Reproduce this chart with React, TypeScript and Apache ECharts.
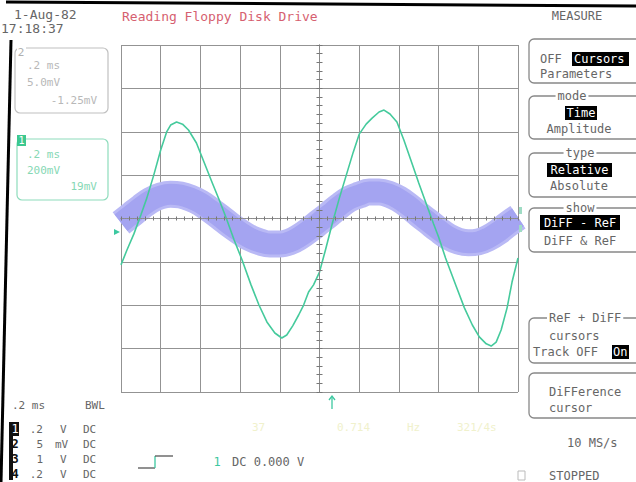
import React, { useEffect, useRef } from "react";
import * as echarts from "echarts";

// Channel 1 (green) : time in ms, amplitude in mV (200 mV/div)
const ch1Time = [
  -1.0, -0.97, -0.935, -0.9, -0.87, -0.835, -0.8, -0.77, -0.75, -0.72, -0.69, -0.66, -0.62, -0.58, -0.54,
  -0.505, -0.47, -0.43, -0.39, -0.345, -0.305, -0.265, -0.225, -0.19, -0.165, -0.135, -0.105, -0.08, -0.055,
  -0.03, 0.0, 0.03, 0.065, 0.1, 0.135, 0.17, 0.2, 0.235, 0.265, 0.3, 0.325, 0.355, 0.39, 0.425, 0.46, 0.5,
  0.54, 0.575, 0.6, 0.635, 0.69, 0.73, 0.77, 0.805, 0.84, 0.865, 0.89, 0.915, 0.945, 0.97, 1.0,
];
const ch1Mv = [
  -214, -145, -71, 16, 94, 200, 316, 399, 431, 445, 435, 408, 348, 256, 164,
  85, 2, -99, -191, -306, -399, -477, -528, -551, -537, -495, -445, -399, -339,
  -306, -247, -145, -21, 94, 200, 306, 389, 435, 463, 491, 500, 482, 445, 362, 270, 164,
  62, -25, -85, -182, -316, -412, -491, -546, -578, -588, -570, -514, -412, -293, -182,
];

// Channel 2 (purple) : time in ms, amplitude in mV (5 mV/div)
const ch2Time = [
  -1.0, -0.95, -0.9, -0.85, -0.8, -0.75, -0.7, -0.65, -0.6, -0.55, -0.5, -0.45, -0.4, -0.35, -0.3, -0.25,
  -0.2, -0.15, -0.1, -0.05, 0.0, 0.05, 0.1, 0.15, 0.2, 0.25, 0.3, 0.35, 0.4, 0.45, 0.5, 0.55, 0.6, 0.65,
  0.7, 0.75, 0.8, 0.85, 0.9, 0.95, 1.0,
];
const ch2Mv = [
  -0.5, 0.4, 1.3, 2.1, 2.6, 2.8, 2.7, 2.35, 1.8, 1.0, 0.15, -0.75, -1.55, -2.25, -2.7, -2.95,
  -2.95, -2.7, -2.1, -1.3, -0.4, 0.5, 1.45, 2.25, 2.7, 3.05, 3.05, 2.8, 2.25, 1.45, 0.5, -0.4, -1.3, -2.1,
  -2.6, -2.8, -2.7, -2.25, -1.55, -0.65, 0.15,
];

// Axis settings
const timeMin = -1;
const timeMax = 1;
const timeStep = 0.2;
const ch1Min = -800;
const ch1Max = 800;
const ch1Step = 200;
const ch2Min = -20;
const ch2Max = 20;

// Texts
const dateText = "1-Aug-82";
const timeText = "17:18:37";
const titleText = "Reading Floppy Disk Drive";
const chanRows = [
  { n: "1", a: ".2", u: "V", c: "DC" },
  { n: "2", a: "5", u: "mV", c: "DC" },
  { n: "3", a: "1", u: "V", c: "DC" },
  { n: "4", a: ".2", u: "V", c: "DC" },
];

const MONO = '"DejaVu Sans Mono", "Liberation Mono", monospace';
const TXT = "#666";

function txt(text: string, x: number, y: number, size = 12, fill = TXT, align = "left", extra: any = {}) {
  return {
    type: "text",
    x,
    y,
    z: 30,
    style: {
      text,
      fill,
      font: `${size}px ${MONO}`,
      textAlign: align,
      align,
      textVerticalAlign: "middle",
      verticalAlign: "middle",
      ...extra,
    },
  };
}
function box(x: number, y: number, w: number, h: number, stroke: string, r = 5, lw = 1.3) {
  return {
    type: "rect",
    z: 25,
    shape: { x, y, width: w, height: h, r },
    style: { fill: "none", stroke, lineWidth: lw },
  };
}
function blk(x: number, y: number, w: number, h: number, fill = "#000") {
  return { type: "rect", z: 26, shape: { x, y, width: w, height: h }, style: { fill } };
}
function lbl(text: string, x: number, y: number, align = "center") {
  return txt(text, x, y, 12, TXT, align, { backgroundColor: "#fff", padding: [0, 2] });
}

export default function App() {
  const ref = useRef<HTMLDivElement>(null);
  useEffect(() => {
    if (!ref.current) return;
    const chart = echarts.init(ref.current, undefined, { renderer: "svg" });
    const ch1 = ch1Time.map((t, i) => [t, ch1Mv[i]]);
    const ch2 = ch2Time.map((t, i) => [t, ch2Mv[i]]);

    const tickAxis = (pos: string) => ({
      type: "value",
      min: timeMin,
      max: timeMax,
      interval: timeStep,
      position: pos,
      z: 6,
      axisLabel: { show: false },
      splitLine: { show: false },
      axisLine: { show: true, onZero: true, onZeroAxisIndex: 0, lineStyle: { color: "#8a8a8a", width: 1, type: "dotted" } },
      axisTick: { show: true, length: 2, inside: false, lineStyle: { color: "#777" } },
      minorTick: { show: true, splitNumber: 5, length: 2, lineStyle: { color: "#777" } },
    });
    const yTickAxis = (pos: string) => ({
      type: "value",
      min: ch1Min,
      max: ch1Max,
      interval: ch1Step,
      position: pos,
      z: 6,
      axisLabel: { show: false },
      splitLine: { show: false },
      axisLine: { show: true, onZero: true, onZeroAxisIndex: 0, lineStyle: { color: "#8a8a8a", width: 1 } },
      axisTick: { show: true, length: 3, inside: false, lineStyle: { color: "#777" } },
      minorTick: { show: true, splitNumber: 5, length: 3, lineStyle: { color: "#777" } },
    });

    const graphics: any[] = [
      // bezel edges
      { type: "line", z: 40, shape: { x1: 6, y1: 2, x2: 636, y2: 6 }, style: { stroke: "#000", lineWidth: 3 } },
      { type: "line", z: 40, shape: { x1: 11, y1: 40, x2: 1, y2: 482 }, style: { stroke: "#000", lineWidth: 3 } },
      txt(dateText, 14, 14, 13, TXT),
      txt(timeText, 1, 28, 13, TXT),
      txt(titleText, 122, 16, 13, "#d65f70"),
      txt("MEASURE", 577, 16, 12, TXT, "center"),

      // channel 2 box
      box(15, 48, 93, 65, "#c0c0c0", 5, 1.2),
      blk(17, 46, 9, 10, "#fff"),
      txt("2", 21, 52, 11, "#b0b0b0", "center"),
      txt(".2 ms", 27, 65, 11, "#b8b8b8"),
      txt("5.0mV", 27, 82, 11, "#b8b8b8"),
      txt("-1.25mV", 97, 100, 11, "#b8b8b8", "right"),
      // channel 1 box
      box(17, 139, 91, 61, "#8edcbc", 5, 1.2),
      blk(17, 135, 9, 11, "#3cc890"),
      txt("1", 21.5, 140.5, 10, "#fff", "center"),
      txt(".2 ms", 27, 154, 11, "#86d8b4"),
      txt("200mV", 27, 170, 11, "#86d8b4"),
      txt("19mV", 97, 186, 11, "#86d8b4", "right"),

      // right menu
      box(529, 39, 115, 44, "#888"),
      txt("OFF", 540, 59, 12, TXT),
      blk(572, 52, 57, 14),
      txt("Cursors", 574, 59, 12, "#fff"),
      txt("Parameters", 540, 74, 12, TXT),

      box(529, 96, 115, 43, "#888"),
      lbl("mode", 572, 96),
      blk(565, 106, 32, 14),
      txt("Time", 581, 113, 12, "#fff", "center"),
      txt("Amplitude", 579, 129, 12, TXT, "center"),

      box(529, 153, 115, 44, "#888"),
      lbl("type", 580, 153),
      blk(547, 163, 65, 14),
      txt("Relative", 579.5, 170, 12, "#fff", "center"),
      txt("Absolute", 579, 186, 12, TXT, "center"),

      box(529, 208, 115, 44, "#888"),
      lbl("show", 580, 208),
      blk(540, 215, 80, 15),
      txt("DiFF - ReF", 580, 222.5, 12, "#fff", "center"),
      txt("DiFF & ReF", 580, 241, 12, TXT, "center"),

      box(529, 318, 115, 45, "#888"),
      lbl("ReF + DiFF", 547, 318, "left"),
      txt("cursors", 549, 336, 12, TXT),
      txt("Track OFF", 533, 352, 12, TXT),
      blk(612, 345, 17, 14),
      txt("On", 613, 352, 12, "#fff"),

      box(529, 373, 115, 45, "#888"),
      txt("DiFFerence", 549, 392, 12, TXT),
      txt("cursor", 549, 408, 12, TXT),

      txt("10 MS/s", 567, 443, 12, TXT),
      box(518, 471, 7, 9, "#bbb", 0, 1),
      txt("STOPPED", 549, 476, 12, TXT),

      // bottom-left settings
      txt(".2 ms", 12, 405, 11, TXT),
      txt("BWL", 85, 405, 11, TXT),
      blk(9, 422, 4, 58, "#111"),
    ];
    chanRows.forEach((r, i) => {
      const y = 429 + i * 15;
      if (i === 0) {
        graphics.push(blk(11, y - 7, 8, 14, "#111"));
        graphics.push(txt(r.n, 15, y, 12, "#fff", "center"));
      } else {
        graphics.push(txt(r.n, 15, y, 12, "#111", "center", { font: `bold 12px ${MONO}` }));
      }
      graphics.push(txt(r.a, 43, y, 11, TXT, "right"));
      graphics.push(txt(r.u, r.u === "V" ? 60 : 55, y, 11, TXT));
      graphics.push(txt(r.c, 83, y, 11, TXT));
    });
    graphics.push(
      { type: "polyline", z: 30, shape: { points: [[138, 468], [155, 468]] }, style: { stroke: "#555", lineWidth: 1.3, fill: "none" } },
      { type: "polyline", z: 30, shape: { points: [[155, 468], [155, 456]] }, style: { stroke: "#3cc8a0", lineWidth: 1.3, fill: "none" } },
      { type: "polyline", z: 30, shape: { points: [[155, 456], [173, 456]] }, style: { stroke: "#555", lineWidth: 1.3, fill: "none" } },
      txt("1", 217, 462, 12, "#3cc8a0", "center"),
      txt("DC 0.000 V", 232, 462, 12, TXT),
      // faint measurement readout
      txt("37", 252, 427, 11, "#f0f1cc"),
      txt("0.714", 337, 427, 11, "#f0f1cc"),
      txt("Hz", 407, 427, 11, "#f0f1cc"),
      txt("321/4s", 457, 427, 11, "#f0f1cc"),
      // cursor arrow
      { type: "line", z: 30, shape: { x1: 332, y1: 396, x2: 332, y2: 409 }, style: { stroke: "#3cc8a0", lineWidth: 1.3 } },
      { type: "polyline", z: 30, shape: { points: [[329, 400], [332, 396], [335, 400]] }, style: { stroke: "#3cc8a0", lineWidth: 1.3, fill: "none" } },
      // trace ground markers
      { type: "polygon", z: 30, shape: { points: [[114, 229], [120, 232], [114, 235]] }, style: { fill: "#3cc8a0" } },
      { type: "rect", z: 30, shape: { x: 519, y: 207, width: 3, height: 7 }, style: { fill: "#9fdcc4" } },
      { type: "rect", z: 30, shape: { x: 519, y: 225, width: 3, height: 7 }, style: { fill: "#9fdcc4" } }
    );

    chart.setOption({
      animation: false,
      backgroundColor: "#fff",
      grid: { left: 121, top: 45, width: 397, height: 347, show: false },
      xAxis: [
        {
          type: "value",
          min: timeMin,
          max: timeMax,
          interval: timeStep,
          position: "bottom",
          axisLabel: { show: false },
          axisTick: { show: false },
          axisLine: { show: false, onZero: false },
          splitLine: { show: true, lineStyle: { color: "#939393", width: 1 } },
        },
        tickAxis("bottom"),
        tickAxis("top"),
      ],
      yAxis: [
        {
          type: "value",
          min: ch1Min,
          max: ch1Max,
          interval: ch1Step,
          axisLabel: { show: false },
          axisTick: { show: false },
          axisLine: { show: false, onZero: false },
          splitLine: {
            show: true,
            lineStyle: { color: ["#939393", "#939393", "#939393", "#939393", "#c8c8c8", "#939393", "#939393", "#939393", "#939393"], width: 1 },
          },
        },
        yTickAxis("left"),
        yTickAxis("right"),
        { type: "value", min: ch2Min, max: ch2Max, show: false },
      ],
      series: [
        {
          type: "line",
          name: "CH2 fringe",
          xAxisIndex: 0,
          yAxisIndex: 3,
          data: ch2,
          showSymbol: false,
          smooth: 0.4,
          silent: true,
          z: 2,
          lineStyle: { color: "#b9b9f5", width: 27 },
        },
        {
          type: "line",
          name: "CH2",
          xAxisIndex: 0,
          yAxisIndex: 3,
          data: ch2,
          showSymbol: false,
          smooth: 0.4,
          z: 3,
          lineStyle: { color: "#a4a4f1", width: 21 },
        },
        {
          type: "line",
          name: "CH1",
          xAxisIndex: 0,
          yAxisIndex: 0,
          data: ch1,
          showSymbol: false,
          z: 4,
          lineStyle: { color: "#45ca9c", width: 1.6 },
        },
      ],
      graphic: { elements: graphics },
    });
    return () => chart.dispose();
  }, []);
  return <div ref={ref} style={{ position: "absolute", left: 0, top: 0, width: 636, height: 482, background: "#fff" }} />;
}
